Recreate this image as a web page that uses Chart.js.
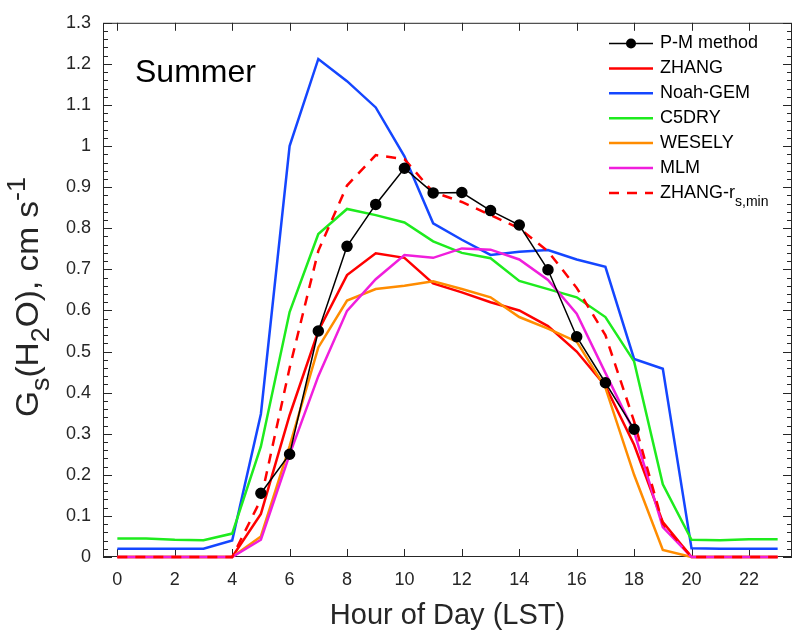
<!DOCTYPE html>
<html>
<head>
<meta charset="utf-8">
<script src="https://cdn.jsdelivr.net/npm/chart.js@4.4.1/dist/chart.umd.min.js"></script>
<style>
  html, body { margin: 0; padding: 0; background: #fff; }
  #wrap { width: 800px; height: 640px; }
</style>
</head>
<body>
<div id="wrap"><canvas id="myChart" width="800" height="640"></canvas></div>
<script>
// hour of day (LST)
const hours = [0,1,2,3,4,5,6,7,8,9,10,11,12,13,14,15,16,17,18,19,20,21,22,23];
const xTickValues = [0,2,4,6,8,10,12,14,16,18,20,22];

// Gs(H2O), cm s-1
const pmMethod = [null,null,null,null,null,0.155,0.25,0.55,0.756,0.858,0.946,0.886,0.887,0.843,0.808,0.699,0.536,0.424,0.311,null,null,null,null,null];
const zhang    = [0,0,0,0,0,0.105,0.345,0.55,0.686,0.739,0.728,0.666,0.644,0.62,0.6,0.562,0.5,0.416,0.273,0.085,0,0,0,0];
const noahGem  = [0.02,0.02,0.02,0.02,0.04,0.348,1.0,1.212,1.158,1.094,0.975,0.812,0.772,0.735,0.743,0.747,0.724,0.706,0.482,0.458,0.021,0.02,0.02,0.02];
const c5dry    = [0.045,0.045,0.042,0.041,0.057,0.269,0.596,0.786,0.847,0.832,0.814,0.768,0.74,0.727,0.672,0.652,0.632,0.584,0.476,0.177,0.042,0.041,0.043,0.043];
const wesely   = [0,0,0,0,0,0.05,0.27,0.51,0.624,0.652,0.66,0.671,0.652,0.632,0.584,0.556,0.524,0.412,0.2,0.017,0,0,0,0];
const mlm      = [0,0,0,0,0,0.042,0.249,0.44,0.599,0.676,0.735,0.728,0.751,0.748,0.724,0.674,0.592,0.448,0.305,0.073,0,0,0,0];
const zhangRsMin = [0,0,0,0,0,0.14,0.46,0.745,0.904,0.978,0.968,0.888,0.864,0.832,0.8,0.744,0.655,0.54,0.33,0.081,0,0,0,0];

const FONT = '"Liberation Sans", Arial, Helvetica, sans-serif';
const AXIS_COLOR = '#262626';

function pts(vals) {
  return hours.map((h, i) => ({ x: h, y: vals[i] }));
}

// legend entries (drawn by the plugin below)
const legendItems = [
  { label: 'P-M method', color: '#000000', width: 1.5, dash: [], marker: true },
  { label: 'ZHANG', color: '#ff0000', width: 2.5, dash: [] },
  { label: 'Noah-GEM', color: '#1446ff', width: 2.5, dash: [] },
  { label: 'C5DRY', color: '#1eeb1e', width: 2.5, dash: [] },
  { label: 'WESELY', color: '#ff8c00', width: 2.5, dash: [] },
  { label: 'MLM', color: '#f01edc', width: 2.5, dash: [] },
  { label: 'ZHANG-r', sub: 's,min', color: '#ff0000', width: 2.5, dash: [10, 8] }
];

// box, inward ticks, titles and legend like the original figure
const matlabAxes = {
  id: 'matlabAxes',
  beforeDatasetsDraw(chart) {
    const { ctx, chartArea: a, scales: { x, y } } = chart;
    ctx.save();
    ctx.strokeStyle = AXIS_COLOR;
    ctx.lineWidth = 1;
    ctx.strokeRect(a.left + 0.5, a.top + 0.5, a.right - a.left - 1, a.bottom - a.top - 1);
    ctx.beginPath();
    for (let k = 0; k <= 65; k++) {
      const v = k * 0.02;
      const py = Math.round(y.getPixelForValue(v)) + 0.5;
      const len = (k % 5 === 0) ? 9 : 5;
      ctx.moveTo(a.left, py); ctx.lineTo(a.left + len, py);
      ctx.moveTo(a.right, py); ctx.lineTo(a.right - len, py);
    }
    xTickValues.forEach(v => {
      const px = Math.round(x.getPixelForValue(v)) + 0.5;
      ctx.moveTo(px, a.bottom); ctx.lineTo(px, a.bottom - 8);
      ctx.moveTo(px, a.top); ctx.lineTo(px, a.top + 8);
    });
    ctx.stroke();
    ctx.restore();
  },
  afterDraw(chart) {
    const { ctx, chartArea: a } = chart;
    ctx.save();
    ctx.fillStyle = '#000';

    // panel label
    ctx.font = '32px ' + FONT;
    ctx.textBaseline = 'alphabetic';
    ctx.textAlign = 'left';
    ctx.fillText('Summer', 135, 82);

    // x title
    ctx.fillStyle = AXIS_COLOR;
    ctx.font = '29px ' + FONT;
    ctx.textAlign = 'center';
    ctx.fillText('Hour of Day (LST)', (a.left + a.right) / 2, 624);

    // y title with sub/superscripts
    const parts = [
      { t: 'G', s: 31, dy: 0 },
      { t: 's', s: 25, dy: 11 },
      { t: '(H', s: 31, dy: 0 },
      { t: '2', s: 25, dy: 11 },
      { t: 'O), cm s', s: 31, dy: 0 },
      { t: '-1', s: 25, dy: -13 }
    ];
    let total = 0;
    parts.forEach(p => { ctx.font = p.s + 'px ' + FONT; p.w = ctx.measureText(p.t).width; total += p.w; });
    const k = 240 / total;
    ctx.translate(38, 297);
    ctx.rotate(-Math.PI / 2);
    ctx.scale(k, 1);
    ctx.textAlign = 'left';
    let cx = -total / 2;
    parts.forEach(p => {
      ctx.font = p.s + 'px ' + FONT;
      ctx.fillText(p.t, cx, p.dy);
      cx += p.w;
    });
    ctx.setTransform(1, 0, 0, 1, 0, 0);

    // legend
    const x0 = 609, x1 = 653, tx = 660;
    legendItems.forEach((it, i) => {
      const ly = 43.5 + i * 24.9;
      ctx.strokeStyle = it.color;
      ctx.lineWidth = it.width;
      ctx.setLineDash(it.dash);
      ctx.beginPath();
      ctx.moveTo(x0, ly); ctx.lineTo(x1, ly);
      ctx.stroke();
      ctx.setLineDash([]);
      if (it.marker) {
        ctx.fillStyle = it.color;
        ctx.beginPath();
        ctx.arc((x0 + x1) / 2, ly, 5, 0, Math.PI * 2);
        ctx.fill();
      }
      ctx.fillStyle = '#000';
      ctx.font = '18px ' + FONT;
      ctx.textBaseline = 'middle';
      ctx.textAlign = 'left';
      ctx.fillText(it.label, tx, ly);
      if (it.sub) {
        const w = ctx.measureText(it.label).width;
        ctx.font = '14px ' + FONT;
        ctx.fillText(it.sub, tx + w, ly + 9);
      }
    });
    ctx.restore();
  }
};

const canvas = document.getElementById('myChart');
const ctx = canvas.getContext('2d');
const myChart = new Chart(ctx, {
  type: 'line',
  data: {
    datasets: [
      { label: 'P-M method', data: pts(pmMethod), borderColor: '#000', backgroundColor: '#000',
        borderWidth: 1.5, pointRadius: 5, pointHoverRadius: 5, order: 0 },
      { label: 'ZHANG-rs,min', data: pts(zhangRsMin), borderColor: '#ff0000', borderWidth: 2.5,
        borderDash: [10, 8], pointRadius: 0, order: 1 },
      { label: 'MLM', data: pts(mlm), borderColor: '#f01edc', borderWidth: 2.5, pointRadius: 0, order: 2 },
      { label: 'WESELY', data: pts(wesely), borderColor: '#ff8c00', borderWidth: 2.5, pointRadius: 0, order: 3 },
      { label: 'C5DRY', data: pts(c5dry), borderColor: '#1eeb1e', borderWidth: 2.5, pointRadius: 0, order: 4 },
      { label: 'Noah-GEM', data: pts(noahGem), borderColor: '#1446ff', borderWidth: 2.5, pointRadius: 0, order: 5 },
      { label: 'ZHANG', data: pts(zhang), borderColor: '#ff0000', borderWidth: 2.5, pointRadius: 0, order: 6 }
    ]
  },
  options: {
    responsive: false,
    animation: false,
    devicePixelRatio: 1,
    spanGaps: false,
    datasets: { line: { tension: 0, clip: false, fill: false } },
    layout: { padding: { top: 15, right: 8, left: 0, bottom: 0 } },
    scales: {
      x: {
        type: 'linear',
        min: -0.5,
        max: 23.5,
        afterBuildTicks: s => { s.ticks = xTickValues.map(v => ({ value: v })); },
        afterFit: s => { s.height = 83; },
        grid: { display: false, drawTicks: false },
        border: { display: false },
        ticks: { padding: 12, color: AXIS_COLOR, font: { family: FONT, size: 18 }, maxRotation: 0, autoSkip: false }
      },
      y: {
        min: 0,
        max: 1.3,
        afterFit: s => { s.width = 103; },
        grid: { display: false, drawTicks: false },
        border: { display: false },
        ticks: {
          stepSize: 0.1, padding: 12, color: AXIS_COLOR, font: { family: FONT, size: 18 },
          callback: v => String(Math.round(v * 10) / 10)
        }
      }
    },
    plugins: {
      legend: { display: false },
      tooltip: { enabled: false }
    }
  },
  plugins: [matlabAxes]
});
myChart.update();
</script>
</body>
</html>
